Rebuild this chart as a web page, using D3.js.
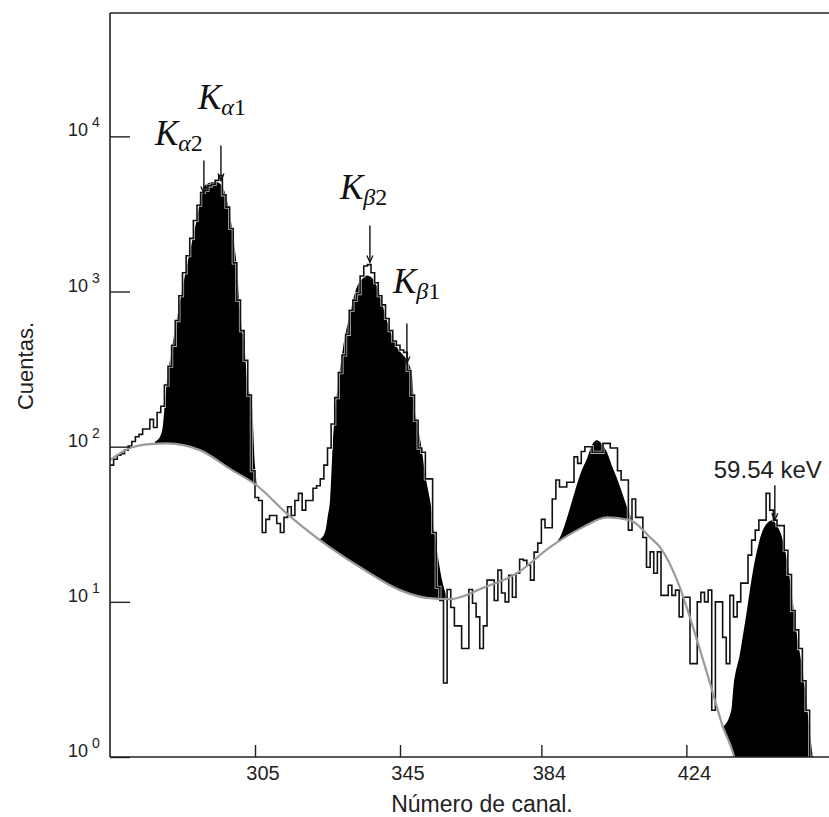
<!DOCTYPE html>
<html>
<head>
<meta charset="utf-8">
<script src="https://cdn.jsdelivr.net/npm/d3@7"></script>
<style>
  body { margin: 0; background: #fff; }
  svg { display: block; }
</style>
</head>
<body>
<svg id="chart" width="829" height="817"></svg>
<script>
// measured spectrum, one count per channel starting at firstChannel
const firstChannel = 265;
const counts = [
  76, 83, 88, 90, 95, 101, 108, 116, 120, 130,
  130, 150, 133, 166, 182, 250, 330, 450, 650, 940,
  1320, 1700, 2200, 2870, 3600, 4350, 4480, 4800, 4900, 5200,
  5600, 4200, 3500, 2550, 1530, 880, 560, 360, 215, 70,
  47, 45, 28, 34, 36, 36, 32, 28, 35, 41,
  36, 45, 50, 39, 45, 45, 54, 56, 62, 76,
  98, 140, 207, 300, 390, 530, 756, 880, 970, 1260,
  1460, 1490, 1320, 1140, 940, 820, 670, 560, 480, 450,
  420, 405, 310, 215, 148, 98, 92, 62, 62, 28,
  12.4, 10.2, 3, 12, 9.2, 7, 7, 5, 5, 12,
  9.8, 8, 5, 7, 13.8, 13.8, 10.2, 16, 11.4, 10,
  14.8, 10.7, 15.3, 18.8, 18.5, 17.2, 13.8, 20.9, 23.9, 34,
  30, 30, 46, 61, 55, 55, 59, 59, 86, 78,
  93, 100, 100, 92, 92, 92, 105, 105, 98, 98,
  70, 61, 61, 29, 46, 35, 35, 26, 16.7, 21,
  15.3, 21, 11, 11, 12.8, 11, 11.9, 8, 10.7, 10.7,
  4, 4, 10, 11.5, 10, 11.9, 2, 10, 10, 5.9,
  4, 11, 8, 10, 13.2, 13.2, 20, 25, 29, 33.6,
  33.6, 50, 39, 33.6, 31, 31, 21.5, 15, 8.8, 6.6,
  5, 3.1, 2, 1, 0.5, 0.5, 0.5, 0.5, 0.5
];

// fitted background (gray curve)
const bgChannels = [265, 270.5, 276, 280.7, 289.8, 298.1, 305.6, 313.8, 322.9, 334,
                    345, 352.4, 358.8, 367.9, 377.3, 386.4, 395.5, 402.1, 408.4, 414,
                    416.7, 422.2, 425.8, 430.5, 434.1, 436.9, 438.8, 444.3, 452, 466];
const bgCounts = [82, 98, 104, 105, 95, 72, 56, 37, 25, 16.7,
                  11.9, 10.6, 10.4, 12.3, 15.3, 22.5, 30.3, 35, 33.6, 26,
                  22.5, 12.4, 6.9, 3, 1.56, 1.06, 0.7, 0.34, 0.15, 0.05];

// fitted totals (background + peak) for the four black peaks
const kaChannels = [277.4, 278.8, 279.6, 280.2, 280.7, 281.8, 282.9, 285.1, 286.5, 289,
                    290.7, 292.3, 294, 295.6, 297.3, 298.9, 299.8, 301.1, 302.2, 302.8,
                    304.2, 305, 305.6];
const kaFit = [108, 116, 137, 199, 268, 390, 562, 1090, 1585, 2960,
               4660, 5000, 5100, 4900, 3860, 2350, 1585, 660, 418, 268,
               180, 75, 56];

const kbChannels = [322.1, 323.5, 324.6, 325.1, 325.7, 326.5, 327.1, 327.9, 329.3, 331.2,
                    333.1, 334.5, 335.9, 337.3, 338.7, 340, 341.4, 342.8, 344.2, 345.6,
                    346.9, 348.3, 348.8, 349.9, 351, 352.1, 353.3, 355.2, 356.6, 358];
const kbFit = [25, 26, 30, 36, 45, 110, 170, 250, 436, 720,
               1070, 1200, 1270, 1220, 1070, 850, 650, 520, 436, 395,
               360, 290, 199, 138, 96, 63, 45, 21.5, 13.8, 10.7];

const p3Channels = [387.2, 389.1, 391.1, 392.5, 393.9, 395.3, 396.6, 398, 399.3, 400.7,
                    402.1, 403.4, 404.8, 406.2, 407.6, 408.9];
const p3Fit = [23.2, 26, 35, 45, 58, 72, 84, 103, 110, 104,
               92, 76, 63, 51, 41, 34.5];

const amChannels = [434.1, 436.4, 436.9, 438.8, 440.7, 442.4, 443.8, 445.1, 446.5, 447.6,
                    449, 450.6, 452, 453.4, 454.7, 456.1, 457.4, 458.8, 460.2];
const amFit = [1.56, 2, 2.7, 4.67, 8.8, 16, 23, 29, 32.5, 33.6,
               31, 25, 17.2, 9.8, 5.7, 3.6, 2, 1.03, 0.6];

const xTicks = [305, 345, 384, 424];
const yTicks = [1, 10, 100, 1000, 10000];
const yTickExp = ["0", "1", "2", "3", "4"];

// arrow annotations: channel, tip count, label
const notes = [
  {ch: 290.9, tip: 4290, len: 33, sym: "α", idx: "2", dx: -49, dy: -15},
  {ch: 295.6, tip: 5190, len: 35, sym: "α", idx: "1", dx: -23, dy: -37},
  {ch: 336.7, tip: 1540, len: 37, sym: "β", idx: "2", dx: -30, dy: -26},
  {ch: 346.9, tip: 344, len: 40, sym: "β", idx: "1", dx: -14, dy: -30}
];
const amNote = {ch: 448.4, tip: 33.6, len: 35, text: "59.54 keV", dx: -7, dy: -7};

const svg = d3.select("#chart");
const plotLeft = 110, plotTop = 13, plotBottom = 757, plotRight = 835;

const x = d3.scaleLinear().domain([265, 465]).range([plotLeft, plotRight]);
const y = d3.scaleLog().domain([1, Math.pow(10, 4.795)]).range([plotBottom, plotTop]);

svg.append("clipPath").attr("id", "plot")
  .append("rect")
  .attr("x", plotLeft).attr("y", plotTop)
  .attr("width", plotRight - plotLeft).attr("height", plotBottom - plotTop);

const g = svg.append("g").attr("clip-path", "url(#plot)");

// black peaks: fill from fit down to the bottom, then white-out under the background
const fitArea = d3.area()
  .x(d => x(d[0]))
  .y0(plotBottom + 50)
  .y1(d => y(d[1]))
  .curve(d3.curveMonotoneX);

[[kaChannels, kaFit], [kbChannels, kbFit], [p3Channels, p3Fit], [amChannels, amFit]]
  .forEach(([chs, vals]) => {
    g.append("path")
      .datum(chs.map((c, i) => [c, vals[i]]))
      .attr("d", fitArea)
      .style("fill", "#000");
  });

const bgPts = bgChannels.map((c, i) => [c, bgCounts[i]]);
g.append("path")
  .datum(bgPts)
  .attr("d", fitArea)
  .style("fill", "#fff");

// histogram
const histPts = counts.map((v, i) => [firstChannel + i, v]);
histPts.push([firstChannel + counts.length, counts[counts.length - 1]]);
const step = d3.line()
  .x(d => x(d[0]))
  .y(d => y(d[1]))
  .curve(d3.curveStepAfter);

g.append("path")
  .datum(histPts)
  .attr("d", step)
  .style("fill", "none")
  .style("stroke", "#fff")
  .style("stroke-width", 3.2)
  .style("opacity", 0.7);
g.append("path")
  .datum(histPts)
  .attr("d", step)
  .style("fill", "none")
  .style("stroke", "#111")
  .style("stroke-width", 1.6);

// background curve
g.append("path")
  .datum(bgPts)
  .attr("d", d3.line().x(d => x(d[0])).y(d => y(d[1])).curve(d3.curveMonotoneX))
  .style("fill", "none")
  .style("stroke", "#9a9a9a")
  .style("stroke-width", 2.2);

// frame
const frame = svg.append("g").style("stroke", "#222").style("stroke-width", 1.6);
frame.append("line").attr("x1", plotLeft).attr("x2", plotLeft).attr("y1", plotTop).attr("y2", plotBottom);
frame.append("line").attr("x1", plotLeft).attr("x2", 829).attr("y1", plotTop).attr("y2", plotTop);
frame.append("line").attr("x1", plotLeft).attr("x2", 829).attr("y1", plotBottom).attr("y2", plotBottom);

// y ticks
svg.append("g")
  .attr("transform", "translate(" + plotLeft + ",0)")
  .call(d3.axisLeft(y).tickValues(yTicks).tickSize(-20).tickFormat(""))
  .call(a => a.select(".domain").remove())
  .selectAll("line").style("stroke", "#222").style("stroke-width", 1.4);

yTicks.forEach((t, i) => {
  svg.append("text")
    .attr("x", 88).attr("y", y(t))
    .attr("text-anchor", "end")
    .text("10")
    .style("font-family", "Liberation Sans, Arial, sans-serif")
    .style("font-size", 18)
    .style("fill", "#222");
  svg.append("text")
    .attr("x", 92).attr("y", y(t) - 9)
    .text(yTickExp[i])
    .style("font-family", "Liberation Sans, Arial, sans-serif")
    .style("font-size", 14)
    .style("fill", "#222");
});

// x ticks
svg.append("g")
  .attr("transform", "translate(0," + plotBottom + ")")
  .call(d3.axisBottom(x).tickValues(xTicks).tickSize(-12).tickFormat(""))
  .call(a => a.select(".domain").remove())
  .selectAll("line").style("stroke", "#222").style("stroke-width", 1.4);

xTicks.forEach(t => {
  svg.append("text")
    .attr("x", x(t) + 8).attr("y", 780)
    .attr("text-anchor", "middle")
    .text(t)
    .style("font-family", "Liberation Sans, Arial, sans-serif")
    .style("font-size", 20)
    .style("fill", "#222");
});

svg.append("text")
  .attr("x", 482).attr("y", 812)
  .attr("text-anchor", "middle")
  .text("Número de canal.")
  .style("font-family", "Liberation Sans, Arial, sans-serif")
  .style("font-size", 23)
  .style("fill", "#222");

svg.append("text")
  .attr("transform", "translate(33,366) rotate(-90)")
  .attr("text-anchor", "middle")
  .text("Cuentas.")
  .style("font-family", "Liberation Sans, Arial, sans-serif")
  .style("font-size", 22)
  .style("fill", "#222");

// arrows
function arrow(xp, tipY, len) {
  svg.append("line")
    .attr("x1", xp).attr("x2", xp)
    .attr("y1", tipY - len).attr("y2", tipY)
    .style("stroke", "#111").style("stroke-width", 1.4);
  svg.append("path")
    .attr("d", "M" + (xp - 3) + "," + (tipY - 7) + "L" + xp + "," + tipY + "L" + (xp + 3) + "," + (tipY - 7))
    .style("fill", "none").style("stroke", "#111").style("stroke-width", 1.3);
}

notes.forEach(n => {
  const xp = x(n.ch), tipY = y(n.tip);
  arrow(xp, tipY, n.len);
  const t = svg.append("text")
    .attr("x", xp + n.dx)
    .attr("y", tipY - n.len + n.dy)
    .style("font-family", "Liberation Serif, Times New Roman, serif")
    .style("fill", "#111");
  t.append("tspan").text("K").style("font-style", "italic").style("font-size", 35);
  t.append("tspan").text(n.sym).attr("dy", 6).style("font-style", "italic").style("font-size", 24);
  t.append("tspan").text(n.idx).style("font-size", 24);
});

{
  const xp = x(amNote.ch), tipY = y(amNote.tip);
  arrow(xp, tipY, amNote.len);
  svg.append("text")
    .attr("x", xp + amNote.dx)
    .attr("y", tipY - amNote.len + amNote.dy)
    .attr("text-anchor", "middle")
    .text(amNote.text)
    .style("font-family", "Liberation Sans, Arial, sans-serif")
    .style("font-size", 24)
    .style("fill", "#222");
}
</script>
</body>
</html>
